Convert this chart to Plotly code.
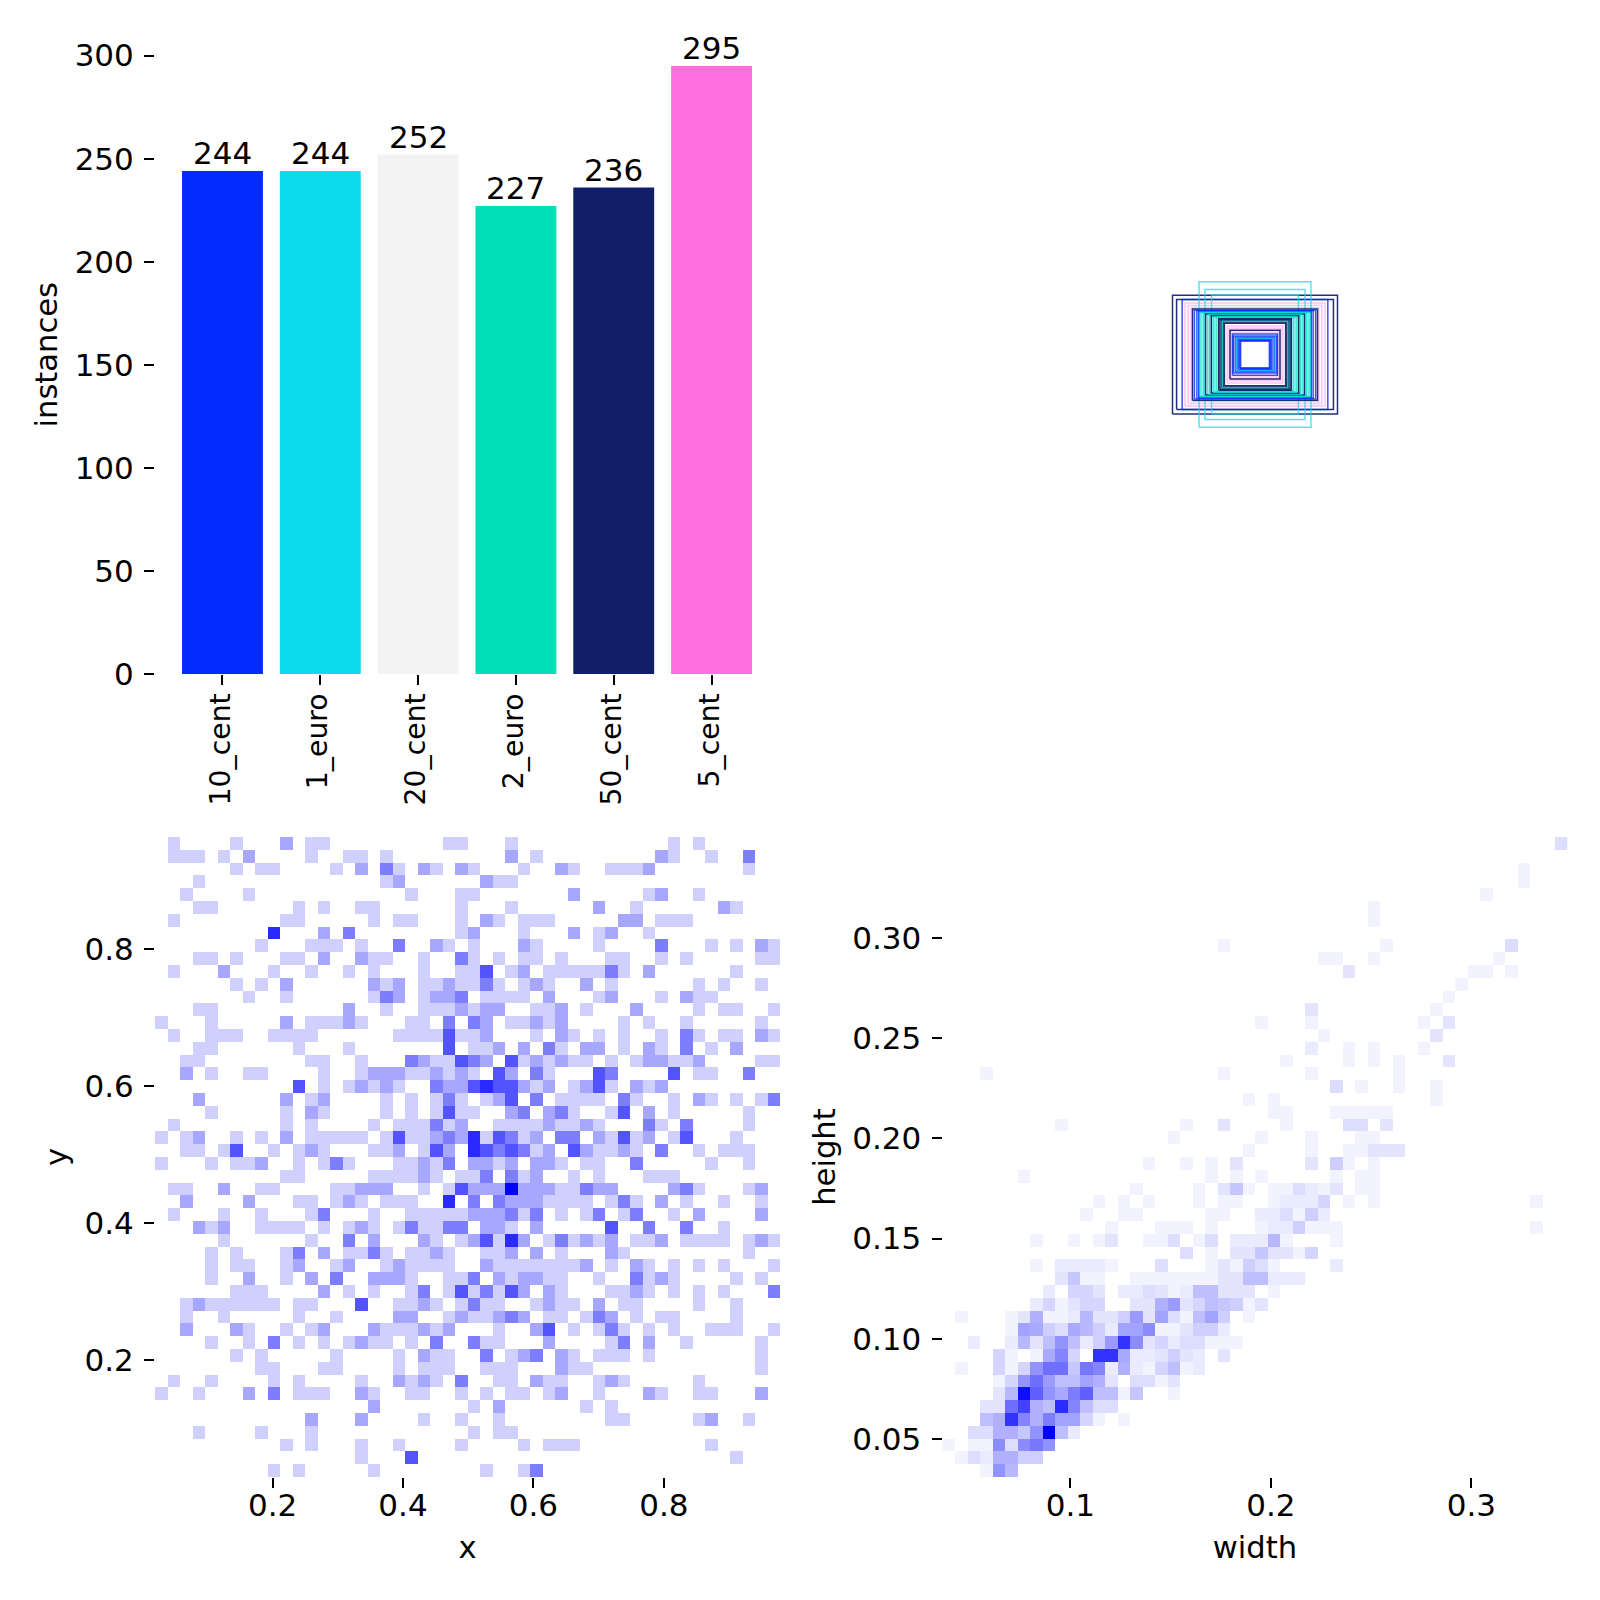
import plotly.graph_objects as go

FIG_SIZE = 1600
FONT = "DejaVu Sans"
TICK_SIZE = 31
CAT_SIZE = 28.3
TITLE_SIZE = 30.6

# class instance counts
classes = ["10_cent", "1_euro", "20_cent", "2_euro", "50_cent", "5_cent"]
instances = [244, 244, 252, 227, 236, 295]
class_colors = ["#042AFF", "#0BDBEB", "#F3F3F3", "#00DFB7", "#111F68", "#FF6FDE"]
class_line_opacity = [0.8, 0.7, 0.5, 0.8, 0.92, 0.42]

# box sizes as fractions of the canvas, centred on the canvas, drawn in this order
box_class = [4, 4, 0, 1, 1, 1, 5, 5, 5, 4, 0, 0, 0,
             3, 1, 3, 4, 1, 3, 4, 3, 1, 3, 4, 4, 4, 4, 4, 3,
             5, 5, 5, 5, 4, 0, 0, 0, 0, 1, 0, 0, 0]
box_w = [.264, .251, .233, .179, .160, .139, .224, .214, .204, .200, .194, .186, .180,
         .176, .170, .164, .158, .152, .146, .140, .134, .128, .122, .116, .112, .107, .102, .098, .105,
         .089, .083, .077, .071, .080, .072, .069, .063, .058, .060, .053, .049, .046]
box_h = [.190, .176, .176, .233, .208, .190, .165, .157, .150, .146, .142, .140, .137,
         .135, .133, .131, .129, .127, .125, .123, .121, .119, .117, .114, .112, .108, .104, .100, .106,
         .091, .084, .076, .069, .078, .066, .059, .055, .051, .052, .047, .044, .043]

# row 0 is the top row of the grid; {column: count}
xy_rows = [
    {1:1,6:1,10:2,12:1,13:1,23:1,24:1,28:1,41:1,43:1},
    {1:1,2:1,3:1,5:1,7:2,12:1,15:1,16:1,18:1,28:2,30:1,40:2,41:1,44:1,47:3},
    {6:1,8:1,9:1,14:1,16:2,18:3,19:1,21:2,22:1,24:2,25:1,29:1,32:2,33:1,36:1,37:1,38:1,39:2,47:1},
    {3:1,18:1,19:2,26:2,27:1,28:1},
    {2:1,7:1,20:1,24:1,25:1,33:2,39:1,40:2,43:1},
    {3:1,4:1,11:1,13:1,16:1,17:1,24:1,28:1,35:2,38:1,45:2,46:1},
    {1:1,10:1,11:1,17:1,19:1,20:1,24:1,26:2,27:1,29:1,30:1,31:1,37:2,38:2,40:1,41:1,42:1},
    {9:5,13:2,15:3,24:1,25:2,29:1,33:2,35:1,36:2,39:1},
    {8:1,12:1,13:1,14:1,16:1,19:3,22:2,23:1,25:1,29:2,30:1,35:1,40:3,44:1,46:1,48:2,49:1},
    {3:1,4:1,6:1,10:1,11:1,13:2,16:2,17:1,18:1,21:1,24:3,25:1,27:1,29:1,30:1,32:1,36:1,37:1,40:1,42:1,48:1,49:1},
    {1:1,5:2,9:1,12:1,15:1,17:1,21:1,24:1,25:1,26:4,28:1,29:2,31:1,32:1,33:1,34:1,35:1,36:3,37:1,39:2,46:1},
    {6:1,8:1,10:2,17:2,18:1,19:2,21:1,22:1,23:2,24:1,25:1,26:3,27:1,29:1,30:2,31:1,34:2,36:1,43:1,45:1,48:1},
    {7:1,10:1,17:1,18:3,19:2,21:1,22:2,23:2,24:3,26:1,27:1,28:1,29:1,31:2,35:1,36:2,40:1,42:2,43:1,44:1},
    {3:1,4:1,15:2,18:1,21:1,22:1,23:1,24:2,25:1,26:2,27:2,30:1,31:1,32:2,34:1,38:2,43:1,45:1,46:1,49:1},
    {0:1,4:1,10:2,12:1,13:1,14:1,15:2,16:1,20:1,21:1,23:3,25:3,26:2,28:1,29:1,30:2,31:1,32:2,37:1,39:1,42:1,48:1},
    {1:1,4:1,5:1,6:1,9:1,10:1,11:1,12:1,19:1,20:1,21:1,22:1,23:4,24:1,25:1,26:2,30:1,32:2,33:1,35:1,37:1,40:1,42:3,43:1,45:1,46:1,48:2,49:1},
    {3:1,4:1,11:1,15:1,23:4,25:1,26:1,27:2,29:2,31:3,32:1,34:2,35:2,37:1,39:2,40:1,42:3,44:1,46:2},
    {2:1,3:1,12:1,13:1,16:1,20:3,21:2,22:1,23:1,24:4,25:3,26:2,28:4,29:1,30:2,31:1,32:2,33:1,34:1,36:1,38:1,39:2,40:2,41:1,42:1,43:2,48:1,49:1},
    {2:2,4:1,7:1,8:1,13:1,16:1,17:2,18:2,19:2,20:1,21:1,22:2,23:1,24:2,25:1,27:4,28:2,30:3,31:1,35:4,36:3,41:4,43:1,44:1,47:3},
    {11:4,13:1,15:1,16:2,17:1,18:2,19:1,22:3,23:2,24:2,25:4,26:5,27:4,28:4,29:2,30:1,31:2,33:1,34:2,35:4,36:1,38:2,39:1,40:2},
    {3:2,10:2,12:1,13:2,18:1,20:1,22:1,23:3,24:1,26:1,27:2,28:4,30:3,32:1,33:1,34:1,35:1,37:3,38:1,41:1,43:2,44:1,46:1,48:1,49:3},
    {4:1,10:1,12:2,13:1,18:1,20:1,22:1,23:4,24:1,25:1,28:2,29:3,31:2,32:3,33:1,36:1,37:4,39:2,41:1,47:1},
    {1:1,10:1,12:1,17:1,19:1,20:1,21:1,22:3,23:1,24:2,27:1,28:1,29:1,30:1,31:2,32:1,33:1,34:2,35:1,39:3,40:1,42:3,47:1},
    {0:1,2:1,3:2,6:1,8:1,10:2,12:1,13:1,14:1,15:1,16:1,18:1,19:4,20:1,21:1,22:2,23:3,24:2,25:5,26:1,27:4,28:3,29:1,30:2,32:3,33:3,35:2,36:1,37:4,38:1,39:2,41:1,42:4,46:1},
    {2:1,3:1,5:1,6:4,9:1,11:1,12:2,13:1,17:1,18:1,19:2,21:1,22:4,23:2,25:5,26:4,27:3,28:4,29:3,30:1,31:2,33:4,34:2,35:1,36:1,37:2,38:1,40:3,43:1,45:1,46:1,47:1},
    {0:1,4:1,6:1,7:1,8:2,11:1,13:1,14:3,15:1,19:1,20:1,21:2,22:1,23:3,25:2,26:2,27:1,28:2,30:2,31:2,32:1,34:1,35:1,38:3,44:1,47:1},
    {10:1,11:1,17:1,18:1,19:1,20:1,21:2,22:1,24:1,25:1,26:3,28:3,29:1,30:2,33:1,35:1,39:1,40:1,41:1},
    {1:1,2:1,5:2,8:1,9:1,14:1,15:1,16:2,17:2,18:2,21:1,23:1,24:4,25:2,26:2,27:2,28:6,29:2,30:2,31:2,32:1,33:1,34:3,35:2,36:2,41:2,42:3,43:1,47:1,48:2},
    {2:2,7:2,11:1,12:1,14:1,15:2,16:1,18:1,19:1,20:1,23:5,25:3,27:3,28:2,29:2,30:2,31:1,32:1,33:1,34:1,36:1,37:3,38:1,40:2,42:1,45:1,48:1},
    {1:1,5:1,8:1,12:1,13:3,17:1,20:1,21:1,22:1,23:1,24:1,25:2,26:2,27:2,28:3,29:1,30:3,32:1,34:1,35:3,37:1,38:3,41:1,43:2,48:2},
    {3:2,4:1,5:2,8:1,9:1,10:1,11:1,13:1,15:1,16:2,17:1,19:1,20:3,21:1,22:1,23:3,24:3,26:2,27:2,28:1,30:2,36:4,39:3,42:3,45:1},
    {5:1,12:1,15:3,17:2,21:2,22:1,24:1,25:2,26:4,27:1,28:5,29:2,31:1,32:3,33:1,34:2,35:1,36:2,38:1,39:1,40:2,42:1,43:1,44:1,45:1,47:1,48:2,49:1},
    {4:1,6:1,10:1,11:3,13:2,15:1,16:1,17:3,18:1,20:1,21:1,22:2,23:1,26:1,27:1,28:2,30:2,32:1,36:2,37:1,47:1},
    {4:1,6:1,7:1,10:1,11:2,14:1,15:2,18:1,19:2,20:1,21:1,22:1,23:1,26:2,27:1,28:1,29:1,30:1,31:1,32:1,33:1,34:2,36:1,38:2,39:1,41:1,43:1,45:1,49:1},
    {4:1,7:2,10:1,12:2,14:3,17:2,18:2,19:2,20:1,23:1,24:1,25:3,27:2,28:1,29:2,30:2,31:1,32:1,35:1,38:3,39:1,40:2,41:1,46:1,48:1},
    {6:1,7:1,8:1,13:2,15:1,17:1,20:1,21:3,23:1,24:4,25:1,26:3,27:1,28:4,29:2,31:2,32:1,36:1,37:1,38:2,39:1,41:1,43:1,45:1,49:3},
    {2:1,3:2,4:1,5:1,6:1,7:1,8:1,9:1,11:1,12:1,16:4,19:1,20:1,21:2,22:1,24:1,25:3,26:1,27:1,30:1,31:2,32:1,33:1,35:2,37:1,38:1,43:1,46:1},
    {2:1,5:1,11:1,14:1,19:2,20:2,23:1,24:2,25:1,26:1,27:2,28:3,29:2,31:1,32:1,34:1,35:3,36:2,38:1,40:1,41:1,46:1},
    {2:2,6:2,7:1,10:1,12:1,13:2,17:2,18:1,19:1,20:1,21:2,22:1,23:2,27:1,30:2,31:4,33:1,35:1,36:3,37:1,39:1,41:1,44:1,45:1,46:1,49:1},
    {4:1,7:1,9:3,11:1,13:1,15:1,16:2,17:1,18:1,20:1,22:3,25:3,26:1,27:1,31:2,36:1,37:3,39:2,42:1,48:1},
    {6:1,8:1,14:1,19:1,21:2,22:1,23:1,26:3,28:1,29:2,30:3,32:2,33:1,35:1,36:1,37:1,39:1,48:1},
    {8:1,9:1,13:1,14:1,19:1,21:1,22:1,23:1,26:1,27:1,28:1,32:2,33:1,34:1,48:1},
    {1:1,4:1,9:1,11:1,16:1,19:2,20:1,21:2,22:1,24:3,27:1,28:1,30:2,31:1,32:1,35:1,36:2,37:1,43:1},
    {0:1,3:1,7:2,9:3,11:1,12:1,13:1,16:2,17:1,20:1,21:1,24:1,26:1,28:1,29:1,31:1,32:2,35:1,39:2,40:1,43:1,44:1,48:2},
    {17:2,25:1,27:2,34:1,36:1},
    {12:2,16:2,21:1,24:1,27:1,36:1,37:1,43:1,44:2,47:1},
    {3:1,8:1,12:1,25:1,27:1,28:1},
    {10:1,12:1,16:1,19:1,24:1,29:1,31:1,32:1,33:1,44:1},
    {16:1,20:4,46:1},
    {9:1,11:1,17:1,26:1,29:1,30:3},
]

wh_rows = [
    {49:4}, {}, {46:1}, {46:1}, {43:1}, {34:1}, {34:1}, {},
    {22:1,35:1,45:4},
    {30:1,31:1,34:1,44:1},
    {32:3,42:1,43:1,45:1},
    {41:1},
    {40:1},
    {29:3,39:1},
    {25:1,29:1,38:1,40:3},
    {30:1,39:3},
    {29:2,32:1,34:1,38:1},
    {27:1,32:1,34:1,36:1,40:3},
    {3:1,22:1,29:1,36:1},
    {31:4,33:1,36:1,39:1},
    {24:1,26:1,39:1},
    {26:1,27:1,31:1,32:1,33:1,34:1,35:1},
    {9:1,19:1,22:3,27:1,32:4,33:4,35:3},
    {18:1,25:1,29:1,33:1,34:1},
    {24:1,29:1,32:1,33:1,34:3,35:3,36:3},
    {16:1,19:1,21:1,23:3,29:3,31:6,32:1,34:1},
    {6:1,21:1,23:1,25:1,31:1,33:1,34:1},
    {15:1,20:1,22:3,23:7,24:1,26:1,27:1,28:4,29:2,30:1,31:3,33:1,34:1},
    {12:1,14:1,16:1,20:1,22:1,23:1,26:1,27:2,28:2,29:2,30:5,32:1,34:1,47:1},
    {11:1,14:1,15:1,21:1,22:1,25:2,26:2,27:4,28:1,29:6,30:2},
    {13:1,17:1,18:1,19:1,21:1,25:1,26:2,27:2,28:6,29:1,30:1,31:1,47:1},
    {7:1,10:1,12:1,13:3,16:1,17:1,18:4,20:1,21:4,23:2,24:2,25:2,26:9,27:1,31:1},
    {19:4,21:1,23:3,24:3,25:7,26:3,27:3,28:1,29:5},
    {7:1,9:2,10:2,11:2,12:2,13:1,17:4,21:1,22:3,23:1,24:6,25:4,26:1,31:2},
    {9:3,10:7,11:1,12:1,15:1,16:1,17:1,18:1,19:1,20:1,21:1,22:3,23:3,24:8,25:8,26:2,27:2,28:2},
    {8:2,10:5,11:5,12:3,14:2,15:2,16:4,17:3,18:1,19:2,20:8,21:8,22:3,23:3,24:3,26:1},
    {7:2,8:5,9:1,10:3,11:5,12:5,15:3,16:3,17:10,18:13,19:3,20:5,21:8,22:7,23:6,24:1,25:3},
    {1:1,5:1,6:3,7:10,8:1,9:1,10:2,11:9,12:3,13:3,14:6,15:13,16:3,17:12,18:4,19:1,20:8,21:12,22:6,24:1},
    {5:1,6:12,7:11,8:6,9:4,10:11,11:9,12:6,13:2,14:12,15:12,16:15,17:1,18:1,19:3,20:6,21:6,22:2},
    {2:2,5:2,6:9,7:3,8:8,9:14,10:8,11:2,12:6,13:13,14:27,15:15,16:3,17:5,18:2,19:4,20:4,21:1,22:1,23:1},
    {4:5,5:1,7:1,8:11,9:16,10:5,12:27,13:27,14:11,15:2,16:2,17:3,18:6,19:3,20:2,22:3},
    {1:1,4:5,5:1,6:5,7:14,8:19,9:19,10:7,11:18,12:16,13:2,14:10,15:2,16:1,17:5,18:8,19:1,20:2},
    {4:1,5:5,6:14,7:19,8:13,9:8,10:8,11:12,12:10,13:3,15:4,16:4,17:1,18:3},
    {4:3,5:9,6:32,7:21,8:14,9:11,10:17,11:21,12:8,13:8,14:1,15:7,18:1},
    {3:3,4:3,5:19,6:25,7:10,8:8,9:28,10:16,11:8,12:4,13:4},
    {3:8,4:10,5:27,6:16,7:10,8:17,9:12,10:12,11:5,12:1,14:1},
    {2:4,3:4,4:10,5:10,6:7,7:14,8:34,9:8,10:2},
    {0:1,2:1,3:1,4:15,5:4,6:15,7:18,8:14},
    {1:1,2:4,3:2,4:10,5:10,6:6,7:6},
    {3:1,4:14,5:9},
]

# histogram extents along each axis
xy_x_range = [0.0196, 0.9782]
xy_y_range = [0.0292, 0.9635]
wh_x_range = [0.0362, 0.3479]
wh_y_range = [0.0310, 0.3504]


def grid(rows):
    """Expand the sparse rows into a bottom-up matrix; empty bins stay blank."""
    matrix = [[row.get(col) for col in range(50)] for row in rows]
    return matrix[::-1]


def centres(extent, n=50):
    step = (extent[1] - extent[0]) / n
    return [extent[0] + step * (i + 0.5) for i in range(n)]


def dom_x(a, b):
    return [a / FIG_SIZE, b / FIG_SIZE]


def dom_y(top, bottom):
    return [1 - bottom / FIG_SIZE, 1 - top / FIG_SIZE]


BLUES = [[0, "rgb(250,250,255)"], [1, "rgb(0,0,255)"]]
tick_style = dict(ticks="outside", ticklen=10, tickwidth=1.8, tickcolor="black",
                  showgrid=False, zeroline=False, showline=False, automargin=False,
                  tickfont=dict(family=FONT, size=TICK_SIZE, color="black"))
title_font = dict(family=FONT, size=TITLE_SIZE, color="black")

fig = go.Figure()

fig.add_trace(go.Bar(x=classes, y=instances, width=0.827, marker=dict(color=class_colors, line_width=0),
                     xaxis="x", yaxis="y", showlegend=False))

# nested label boxes around the canvas centre
for cls, w, h in zip(box_class, box_w, box_h):
    fig.add_trace(go.Scatter(
        x=[0.5 - w / 2, 0.5 + w / 2, 0.5 + w / 2, 0.5 - w / 2, 0.5 - w / 2],
        y=[0.5 - h / 2, 0.5 - h / 2, 0.5 + h / 2, 0.5 + h / 2, 0.5 - h / 2],
        mode="lines", line=dict(color=class_colors[cls], width=1.5),
        opacity=class_line_opacity[cls],
        xaxis="x2", yaxis="y2", showlegend=False, hoverinfo="skip"))

fig.add_trace(go.Heatmap(x=centres(xy_x_range), y=centres(xy_y_range), z=grid(xy_rows),
                         zmin=0, zmax=6, colorscale=BLUES, showscale=False,
                         xaxis="x3", yaxis="y3"))
fig.add_trace(go.Heatmap(x=centres(wh_x_range), y=centres(wh_y_range), z=grid(wh_rows),
                         zmin=0, zmax=34, colorscale=BLUES, showscale=False,
                         xaxis="x4", yaxis="y4"))

hidden = dict(visible=False, showgrid=False, zeroline=False)

# count printed just above each bar
count_labels = [
    dict(x=name, y=value, xref="x", yref="y", text=str(value), showarrow=False,
         yanchor="bottom", yshift=-2, font=dict(family=FONT, size=TICK_SIZE, color="black"))
    for name, value in zip(classes, instances)
]

fig.update_layout(
    width=FIG_SIZE, height=FIG_SIZE, margin=dict(l=0, r=0, t=0, b=0),
    paper_bgcolor="white", plot_bgcolor="white", font=dict(family=FONT, color="black"),
    annotations=count_labels,
    xaxis=dict(domain=dom_x(155, 780), range=[-0.69, 5.70], type="category", anchor="y",
               tickangle=-90, ticklabelstandoff=-3, ticklabelshift=-2,
               **{**tick_style, "tickfont": dict(family=FONT, size=CAT_SIZE, color="black")}),
    yaxis=dict(domain=dom_y(35.5, 674), range=[0, 309.75], anchor="x", ticklabelstandoff=4,
               tickvals=[0, 50, 100, 150, 200, 250, 300],
               title=dict(text="instances", font=title_font, standoff=7), **tick_style),
    xaxis2=dict(domain=dom_x(942.5, 1567.5), range=[0, 1], anchor="y2", **hidden),
    yaxis2=dict(domain=dom_y(42, 667), range=[0, 1], anchor="x2", **hidden),
    xaxis3=dict(domain=dom_x(155, 780), range=xy_x_range, anchor="y3", ticklabelstandoff=-9,
                tickvals=[0.2, 0.4, 0.6, 0.8], tickformat=".1f",
                title=dict(text="x", font=title_font, standoff=14), **tick_style),
    yaxis3=dict(domain=dom_y(837, 1477), range=xy_y_range, anchor="x3", ticklabelstandoff=4,
                tickvals=[0.2, 0.4, 0.6, 0.8], tickformat=".1f",
                title=dict(text="y", font=title_font, standoff=7), **tick_style),
    xaxis4=dict(domain=dom_x(942.5, 1567.5), range=wh_x_range, anchor="y4", ticklabelstandoff=-9,
                tickvals=[0.1, 0.2, 0.3], tickformat=".1f",
                title=dict(text="width", font=title_font, standoff=14), **tick_style),
    yaxis4=dict(domain=dom_y(837, 1477), range=wh_y_range, anchor="x4", ticklabelstandoff=4,
                tickvals=[0.05, 0.10, 0.15, 0.20, 0.25, 0.30], tickformat=".2f",
                title=dict(text="height", font=title_font, standoff=7), **tick_style),
)

fig.write_html("out.html")
